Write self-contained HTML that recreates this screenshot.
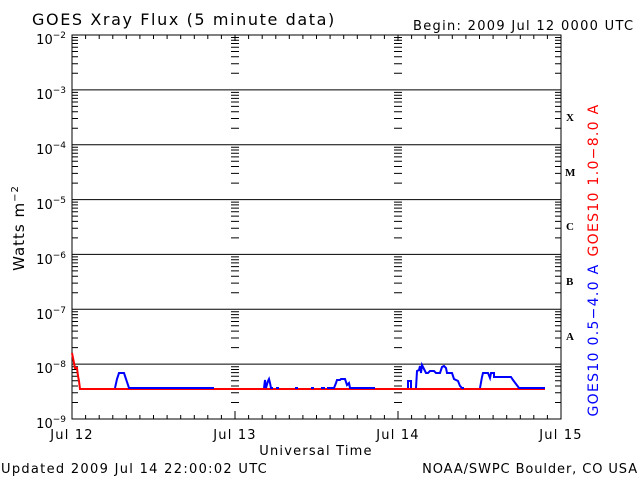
<!DOCTYPE html>
<html><head><style>
body{margin:0;background:#fff}
svg{display:block;font-family:"DejaVu Sans","Liberation Sans",sans-serif}
</style></head><body>
<svg id="s" width="640" height="480" xmlns="http://www.w3.org/2000/svg">
<rect width="640" height="480" fill="#fff"/>
<g id="g" stroke="#000" stroke-width="1" fill="none"></g>
<text x="32" y="25" font-size="16" letter-spacing="1.6">GOES Xray Flux (5 minute data)</text>
<text x="413" y="30" font-size="13" letter-spacing="1.3">Begin:  2009 Jul 12 0000 UTC</text>
<g font-size="13" text-anchor="end">
<text x="66" y="44">10<tspan dy="-6" font-size="9">−2</tspan></text>
<text x="66" y="99">10<tspan dy="-6" font-size="9">−3</tspan></text>
<text x="66" y="154">10<tspan dy="-6" font-size="9">−4</tspan></text>
<text x="66" y="209">10<tspan dy="-6" font-size="9">−5</tspan></text>
<text x="66" y="264">10<tspan dy="-6" font-size="9">−6</tspan></text>
<text x="66" y="319">10<tspan dy="-6" font-size="9">−7</tspan></text>
<text x="66" y="373">10<tspan dy="-6" font-size="9">−8</tspan></text>
<text x="66" y="428">10<tspan dy="-6" font-size="9">−9</tspan></text>
</g>
<text transform="translate(24,228) rotate(-90)" font-size="15" text-anchor="middle" letter-spacing="1">Watts m<tspan dy="-6" font-size="10">−2</tspan></text>
<g font-size="13" text-anchor="middle" letter-spacing="1.2">
<text x="72" y="439">Jul 12</text><text x="235" y="439">Jul 13</text>
<text x="398" y="439">Jul 14</text><text x="561" y="439">Jul 15</text>
<text x="316" y="455">Universal Time</text>
</g>
<text x="1" y="473" font-size="13" letter-spacing="1.3">Updated 2009 Jul 14 22:00:02 UTC</text>
<text x="638" y="473" font-size="13" text-anchor="end" letter-spacing="0.9">NOAA/SWPC Boulder, CO USA</text>
<g font-family="Liberation Serif,serif" font-weight="bold" font-size="11">
<text x="566" y="121">X</text><text x="565" y="176">M</text><text x="566" y="230">C</text><text x="566" y="285">B</text><text x="566" y="340">A</text>
</g>
<text transform="translate(598,180) rotate(-90)" font-size="14" fill="#f00" text-anchor="middle" letter-spacing="1.3">GOES10 1.0−8.0 A</text>
<text transform="translate(598,340) rotate(-90)" font-size="14" fill="#00f" text-anchor="middle" letter-spacing="1.3">GOES10 0.5−4.0 A</text>
<polyline fill="none" stroke="#f00" stroke-width="2" points="72,353 74,363 75,368 77,368 78,376 79,381 80,389 545,389"/>
<g fill="none" stroke="#00f" stroke-width="2">
<polyline points="115,388 117,379 119,373 124,373 126,379 129,388 214,388"/>
<polyline points="264,388 265,380 266,388 268,381 269,379 270,383 271,388 273,388"/>
<path d="M276,388h3M295,388h3M311,388h3M321,388h4"/>
<polyline points="327,388 334,388 336,383 337,380 340,380 341,379 345,379 347,385 349,383 350,388 375,388"/>
<polyline points="408,388 408,381 411,381 411,388"/>
<polyline points="416,388 417,371 419,370 420,366 421,373 422,365 424,369 426,373 428,373 430,371 434,371 436,373 440,373 442,367 444,366 446,368 447,373 452,373 454,379 458,381 460,386 462,388 464,388"/>
<polyline points="480,388 482,377 483,373 488,373 490,378 491,373 494,373 494,377 511,377 513,380 516,384 519,388 545,388"/>
</g>
</svg>
<script>
const g=document.getElementById('g');let d='';
const L=72,R=561,T=35,B=419,D=(B-T)/7;
d+=`M${L},${T}H${R}V${B}H${L}Z`;
for(let i=1;i<7;i++){d+=`M${L},${T+i*D}H${R}`;}
const mins=[2,3,4,5,6,7,8,9].map(Math.log10);
for(let i=0;i<7;i++){const yb=T+(i+1)*D;mins.forEach(m=>{const y=(yb-m*D).toFixed(1);
d+=`M${L},${y}h6M${R},${y}h-6M${235-4},${y}h8M${398-4},${y}h8`;});}
for(let k=0;k<=36;k++){const x=(L+k*(R-L)/36).toFixed(1);d+=`M${x},${T}v4M${x},${B}v-4`;}
[235,398].forEach(x=>{d+=`M${x},${T}v6M${x},${B}v-8`;});
const p=document.createElementNS('http://www.w3.org/2000/svg','path');p.setAttribute('d',d);g.appendChild(p);
</script>
</body></html>
